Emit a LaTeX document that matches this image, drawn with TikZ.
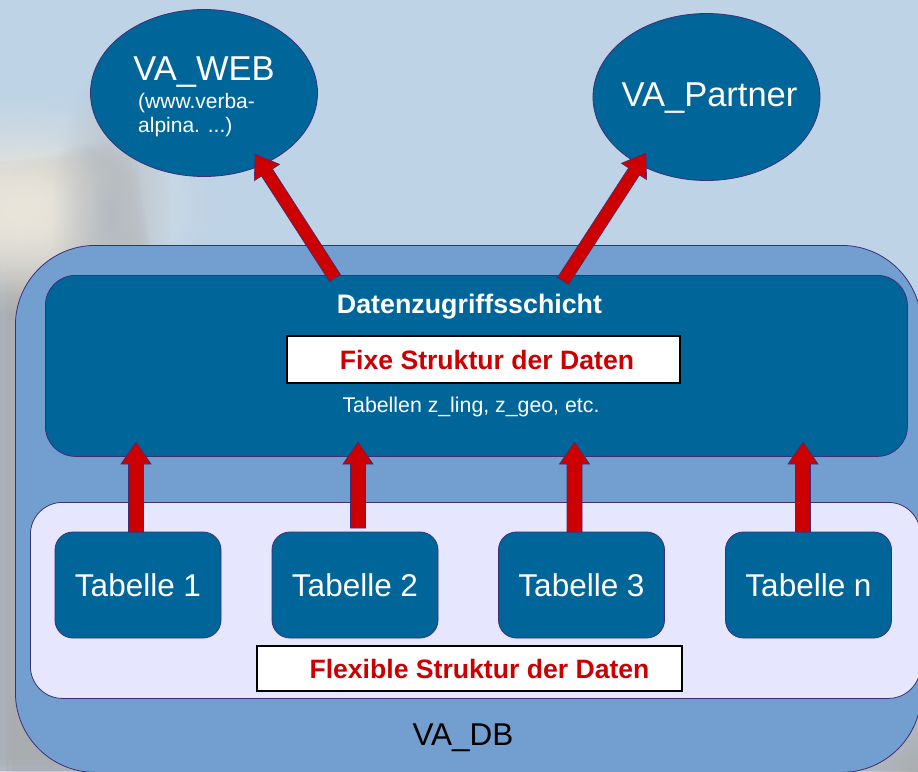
\documentclass[tikz,border=0pt]{standalone}
\usepackage{fontspec}
\setmainfont{Liberation Sans}
\usetikzlibrary{shapes.geometric,calc,fadings}

\definecolor{sky}{RGB}{190,211,230}
\definecolor{mtlight}{RGB}{233,229,219}
\definecolor{mtgray}{RGB}{170,173,175}
\definecolor{mtshadow}{RGB}{180,186,192}
\definecolor{dbblue}{RGB}{114,159,207}
\definecolor{darkbox}{RGB}{0,102,153}
\definecolor{lav}{RGB}{230,230,255}
\definecolor{edge}{RGB}{62,46,120}
\definecolor{arrowred}{RGB}{204,0,0}

% soft round blob used for the blurred backdrop
\tikzfading[name=softblob, inner color=transparent!0, outer color=transparent!100]

\newcommand\fsz[2]{\fontsize{#1}{#2}\selectfont}

% block arrow: tail, tip, half shaft width, half head width, head length
\newcommand\blockarrow[5]{%
  \coordinate (ba-h) at ($(#2)!#5!(#1)$);
  \draw[blockarrow] ($(#1)!#3!90:(#2)$) -- ($(ba-h)!#3!90:(#2)$)
    -- ($(ba-h)!#4!90:(#2)$) -- (#2) -- ($(ba-h)!#4!-90:(#2)$)
    -- ($(ba-h)!#3!-90:(#2)$) -- ($(#1)!#3!-90:(#2)$) -- cycle;}

\tikzset{
  outline/.style={draw=edge, line width=0.8pt},
  darkfill/.style={outline, fill=darkbox},
  tabbox/.style={darkfill, rounded corners=18pt, minimum width=166pt,
    minimum height=106pt, inner sep=0pt, text=white, font=\fsz{31.5}{38}},
  ovalbox/.style={darkfill, ellipse, minimum width=227pt,
    minimum height=167pt, inner sep=0pt},
  labelbox/.style={draw=black, line width=1.6pt, fill=white, inner sep=0pt,
    text=arrowred, font=\bfseries\fsz{26.6}{32}},
  plaintext/.style={inner sep=0pt},
  blockarrow/.style={fill=arrowred, draw=edge, line width=0.6pt},
  blob/.style={path fading=softblob},
}

\begin{document}
\begin{tikzpicture}[x=1pt, y=-1pt]
\useasboundingbox (0,0) rectangle (918,771);
\clip (0,0) rectangle (918,771);

% blurred backdrop: sky and a mountain on the left
\fill[sky] (0,0) rectangle (918,771);
\foreach \dx in {-12,-6,0,6,12} {
  \foreach \dy in {-12,-6,0,6,12} {
    \fill[mtgray, opacity=0.1, shift={(\dx,\dy)}]
      (0,175) -- (55,168) -- (100,155) -- (125,170) -- (145,300)
      -- (150,771) -- (0,771) -- cycle;
  }
}
\fill[mtlight, blob] (25,205) ellipse [x radius=190pt, y radius=110pt];
\fill[mtlight, blob] (20,215) ellipse [x radius=120pt, y radius=80pt];
\fill[mtshadow, blob] (112,215) ellipse [x radius=60pt, y radius=150pt];
\fill[mtgray, blob] (918,771) ellipse [x radius=160pt, y radius=160pt];

% database container
\node[outline, fill=dbblue, rounded corners=80pt, minimum width=906pt,
  minimum height=527pt, inner sep=0pt, anchor=north west] (db) at (15,245) {};
\node[plaintext, font=\fsz{31.5}{38}, anchor=base] (dblabel) at (463,745) {VA\_DB};

% data access layer
\node[darkfill, rounded corners=30pt, minimum width=862pt,
  minimum height=181pt, inner sep=0pt, anchor=north west] (dza) at (45,275) {};
\node[plaintext, text=white, font=\bfseries\fsz{26.8}{32}, anchor=base] (dzatitle)
  at (469.5,313) {Datenzugriffsschicht};
\node[labelbox, minimum width=393pt, minimum height=47pt] (fixe)
  at (483.5,359.5) {\hspace*{7pt}Fixe Struktur der Daten};
\node[plaintext, text=white, font=\fsz{21.3}{25}, anchor=base] (dzasub)
  at (471,412) {Tabellen z\_ling, z\_geo, etc.};

% flexible tables
\node[outline, fill=lav, rounded corners=32pt, minimum width=890pt,
  minimum height=196pt, inner sep=0pt, anchor=north west] (flex) at (30,502) {};
\node[tabbox] (t1) at (138,585) {Tabelle 1};
\node[tabbox] (t2) at (355,585) {Tabelle 2};
\node[tabbox] (t3) at (581.5,585) {Tabelle 3};
\node[tabbox] (t4) at (808.5,585) {Tabelle n};
\node[labelbox, minimum width=425pt, minimum height=45pt] (flexlabel)
  at (469.5,668.5) {\hspace*{20pt}Flexible Struktur der Daten};

% consumers
\node[ovalbox] (web) at (204,93) {};
\node[plaintext, text=white, font=\fsz{34.5}{41}, anchor=base] (webtitle) at (204,80) {VA\_WEB};
\node[plaintext, text=white, font=\fsz{21}{24}, anchor=base west] (weburl1) at (138,108) {(www.verba-};
\node[plaintext, text=white, font=\fsz{21}{24}, anchor=base west] (weburl2) at (138,132) {alpina. ...)};
\node[ovalbox] (partner) at (706.5,97) {};
\node[plaintext, text=white, font=\fsz{34.5}{41}, anchor=base] (partnertitle) at (709.5,106) {VA\_Partner};

% arrow end points
\coordinate (a1s) at (136,532);   \coordinate (a1e) at (136,442);
\coordinate (a2s) at (358,528);   \coordinate (a2e) at (358,442);
\coordinate (a3s) at (574.5,532); \coordinate (a3e) at (574.5,442);
\coordinate (a4s) at (803,532);   \coordinate (a4e) at (803,442);
\coordinate (w-s) at (335,278);   \coordinate (w-e) at (255,154);
\coordinate (p-s) at (563,281);   \coordinate (p-e) at (646,153);

\blockarrow{a1s}{a1e}{7.5pt}{15pt}{22pt}
\blockarrow{a2s}{a2e}{7.5pt}{15pt}{22pt}
\blockarrow{a3s}{a3e}{7.5pt}{15pt}{22pt}
\blockarrow{a4s}{a4e}{7.5pt}{15pt}{22pt}
\blockarrow{w-s}{w-e}{6.5pt}{15pt}{22pt}
\blockarrow{p-s}{p-e}{6.5pt}{15pt}{22pt}
\end{tikzpicture}
\end{document}
